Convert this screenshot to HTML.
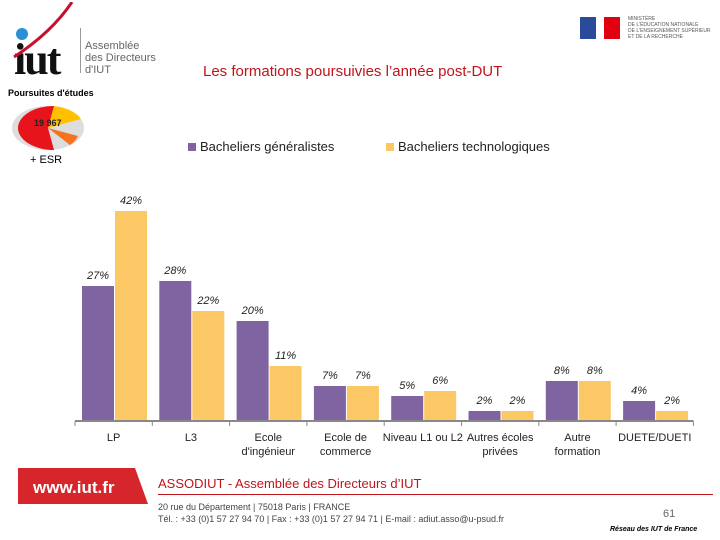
<!DOCTYPE html>
<html><head><meta charset="utf-8"><style>
body{margin:0;width:720px;height:540px;background:#fff;overflow:hidden;position:relative;font-family:"Liberation Sans",sans-serif}
.a{position:absolute}
</style></head><body>
<div class="a" style="left:12px;top:22px;width:70px;height:55px">
 <div class="a" style="left:4px;top:6px;width:12px;height:12px;border-radius:50%;background:#2a8fd6"></div>
 <div class="a" style="left:2px;top:12px;font:bold 44px 'Liberation Serif',serif;color:#111;letter-spacing:-2px">iut</div>
 <svg class="a" style="left:0;top:-20px" width="70" height="60"><path d="M2 55 Q40 30 60 0" stroke="#c8102e" stroke-width="3" fill="none"/></svg>
</div>
<div class="a" style="left:80px;top:28px;width:1px;height:45px;background:#999"></div>
<div class="a" style="left:85px;top:40px;font-size:11px;line-height:12px;color:#666">Assemblée<br>des Directeurs<br>d'IUT</div>
<div class="a" style="left:580px;top:17px;width:40px;height:22px;background:linear-gradient(90deg,#2b4a9a 40%,#fff 40%,#fff 60%,#e1000f 60%)"></div>
<div class="a" style="left:628px;top:16px;font-size:5px;line-height:6px;color:#555">MINISTÈRE<br>DE L'ÉDUCATION NATIONALE<br>DE L'ENSEIGNEMENT SUPÉRIEUR<br>ET DE LA RECHERCHE</div>
<div class="a" style="left:203px;top:63px;font-size:15px;color:#c0141b">Les formations poursuivies l’année post-DUT</div>
<div class="a" style="left:8px;top:88px;font-size:9px;font-weight:bold">Poursuites d'études</div>
<svg class="a" style="left:8px;top:102px" width="80" height="52">
 <ellipse cx="40" cy="26" rx="36" ry="22" fill="#ddd"/>
 <path d="M40 26 L46 4 A36 22 0 0 1 73 17Z" fill="#ffc000"/>
 <path d="M40 26 L70 34 A36 22 0 0 1 62 43Z" fill="#f47421"/>
 <path d="M40 26 L46 4 A36 22 0 1 0 46 48Z" fill="#e8141b"/>
 <text x="26" y="24" font-size="9" font-weight="bold" fill="#222">19 967</text>
</svg>
<div class="a" style="left:30px;top:154px;font-size:11px">+ ESR</div>
<div class="a" style="left:188px;top:139px;font-size:13px;color:#222"><span style="display:inline-block;width:8px;height:8px;background:#8064a2;margin-right:4px"></span>Bacheliers généralistes</div>
<div class="a" style="left:386px;top:139px;font-size:13px;color:#222"><span style="display:inline-block;width:8px;height:8px;background:#fcc865;margin-right:4px"></span>Bacheliers technologiques</div>
<svg id="chart" class="a" style="left:0;top:0" width="720" height="540"></svg>
<div class="a" style="left:18px;top:468px;width:130px;height:36px;background:#d7262b;clip-path:polygon(0 0,90% 0,100% 100%,0 100%)"></div>
<div class="a" style="left:33px;top:478px;font-size:17px;font-weight:bold;color:#fff">www.iut.fr</div>
<div class="a" style="left:158px;top:476px;font-size:13px;color:#c0141b">ASSODIUT - Assemblée des Directeurs d’IUT</div>
<div class="a" style="left:158px;top:494px;width:555px;height:1px;background:#c0141b"></div>
<div class="a" style="left:158px;top:501px;font-size:9px;line-height:12px;color:#444">20 rue du Département | 75018 Paris | FRANCE<br>Tél. : +33 (0)1 57 27 94 70 | Fax : +33 (0)1 57 27 94 71 | E-mail : adiut.asso@u-psud.fr</div>
<div class="a" style="left:663px;top:508px;font-size:11px;color:#666">61</div>
<div class="a" style="left:610px;top:526px;font-size:7px;font-weight:bold;font-style:italic">Réseau des IUT de France</div>
<script>
const categories=[["LP"],["L3"],["Ecole","d'ingénieur"],["Ecole de","commerce"],["Niveau L1 ou L2"],["Autres écoles","privées"],["Autre","formation"],["DUETE/DUETI"]];
const generalistes=[27,28,20,7,5,2,8,4];
const technologiques=[42,22,11,7,6,2,8,2];
const svg=document.getElementById('chart');
const NS='http://www.w3.org/2000/svg';
const x0=75,gw=77.3,base=421,k=5.0;
const xg=i=>x0+i*gw;
const yv=v=>base-v*k;
function mk(t,a){const e=document.createElementNS(NS,t);for(const n in a)e.setAttribute(n,a[n]);svg.appendChild(e);return e;}
[[generalistes,'#8064a2',7,'bar-generalistes'],[technologiques,'#fcc865',40,'bar-technologiques']].forEach(([arr,col,off,nm])=>{
 arr.forEach((v,i)=>{
  const r=mk('rect',{x:xg(i)+off,y:yv(v),width:32,height:v*k,fill:col});
  
  
  const t=mk('text',{x:xg(i)+off+16,y:yv(v)-7,'text-anchor':'middle','font-size':11,fill:'#222','font-style':'italic'});
  t.textContent=v+'%';
  
  
 });
});
const ax=mk('line',{x1:x0,x2:xg(8),y1:base,y2:base,stroke:'#888','stroke-width':2});


for(let i=0;i<=8;i++){mk('line',{x1:xg(i),x2:xg(i),y1:base,y2:base+5,stroke:'#888'});}
categories.forEach((c,i)=>{c.forEach((s,j)=>{
 const t=mk('text',{x:xg(i)+gw/2,y:base+20+j*14,'text-anchor':'middle','font-size':11,fill:'#222'});
 t.textContent=s;
 
 
});});
</script>
</body></html>
